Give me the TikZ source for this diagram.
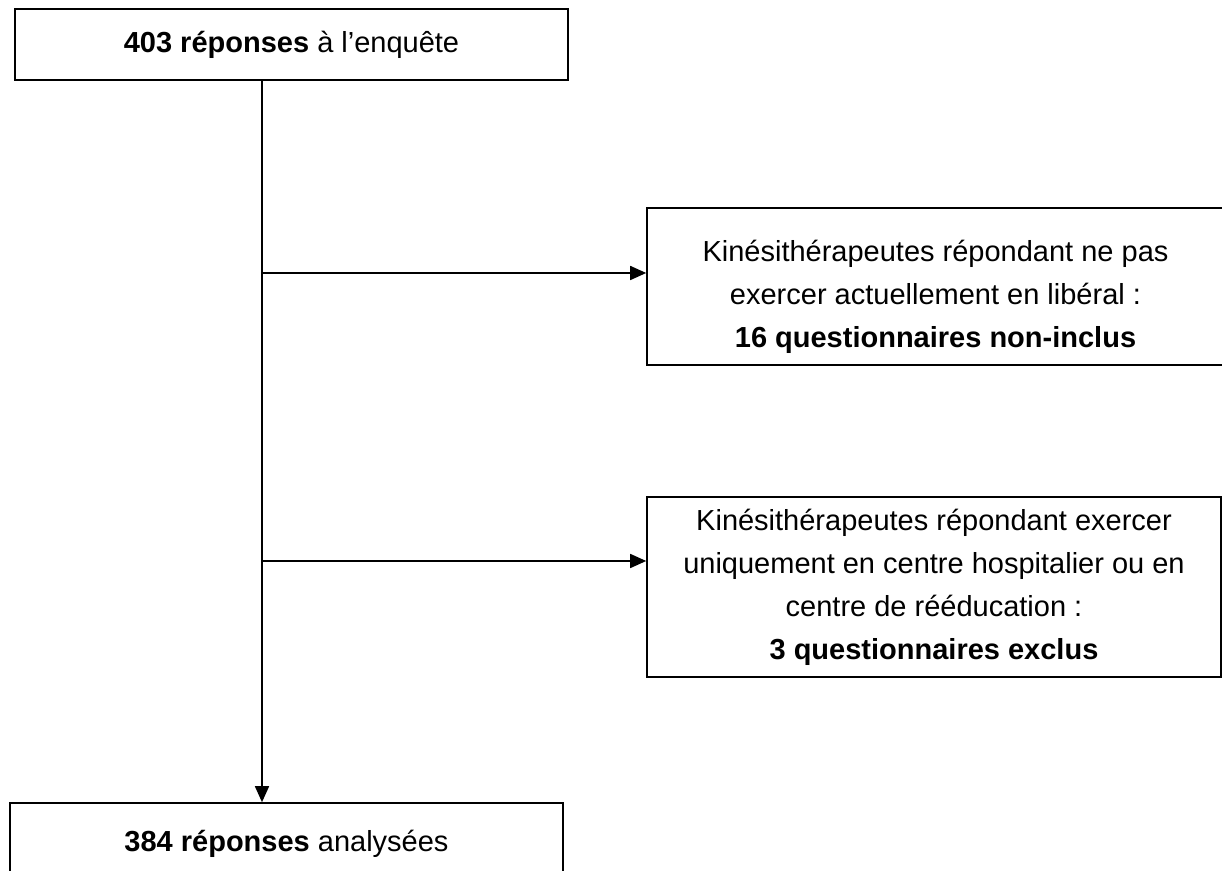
\documentclass[tikz,border=0pt]{standalone}
\usepackage{fontspec}
\setmainfont{Liberation Sans}
\usepackage{tikz}
\usetikzlibrary{arrows.meta,calc}

\begin{document}
\begin{tikzpicture}[x=1pt,y=1pt]
\tikzset{
	box node/.style = {rectangle, draw, line width = 1.6pt, inner sep = 0, align = center,
		font = \fontsize{29}{43}\selectfont},
	arrow line/.style = {line width = 1.6pt, -{Triangle[length = 16pt, width = 14pt]}},
}
\useasboundingbox (0,0) rectangle (1222,870);

\node(top)[box node, minimum width = 553, minimum height = 71] at (291.5,825.5)
	{\textbf{403 réponses} à l’enquête};
\node(nonincl)[box node, minimum width = 577, minimum height = 157] at (935.5,583.5)
	{\rule{0pt}{43pt}Kinésithérapeutes répondant ne pas\\ exercer actuellement en libéral :\\ \textbf{16 questionnaires non-inclus}};
\node(excl)[box node, minimum width = 574, minimum height = 180] at (934,283)
	{Kinésithérapeutes répondant exercer\\ uniquement en centre hospitalier ou en\\ centre de rééducation :\\ \textbf{3 questionnaires exclus}};
\node(bottom)[box node, minimum width = 553, minimum height = 82] at (286.5,26)
	{\textbf{384 réponses} analysées};

% main line and the two branches
\coordinate (trunk) at (262,0);
\coordinate (fork1) at (262,597);
\coordinate (fork2) at (262,309);
\draw [arrow line] (top.south -| trunk) -- (bottom.north -| trunk);
\draw [arrow line] (fork1) -- (fork1 -| nonincl.west);
\draw [arrow line] (fork2) -- (fork2 -| excl.west);

\end{tikzpicture}
\end{document}
